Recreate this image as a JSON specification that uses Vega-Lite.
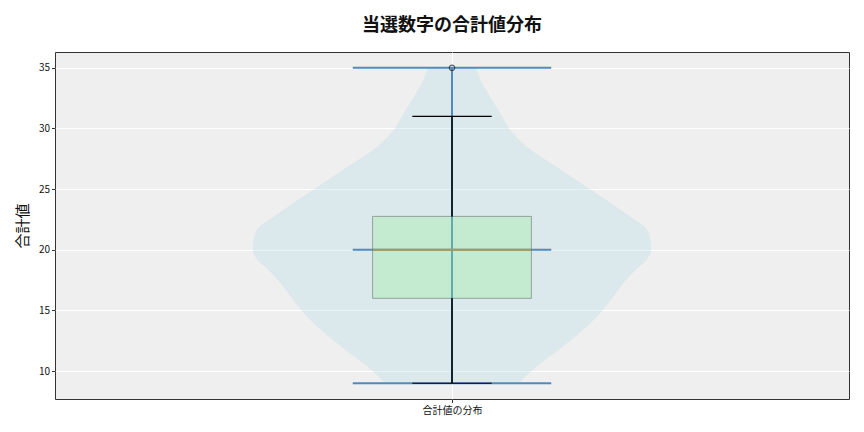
{
  "$schema": "https://vega.github.io/schema/vega-lite/v6.json",
  "width": 794,
  "height": 347,
  "autosize": "none",
  "padding": {"left": 55, "top": 52, "right": 15, "bottom": 33},
  "background": "#ffffff",
  "title": {"text": "当選数字の合計値分布", "fontSize": 18, "font": "Noto Sans CJK JP", "fontWeight": "bold", "color": "#111111", "offset": 17, "anchor": "middle"},
  "config": {
    "view": {"stroke": "#333333", "strokeWidth": 1, "fill": "#efefef"},
    "axis": {"labelFont": "Noto Sans CJK JP", "titleFont": "Noto Sans CJK JP", "labelColor": "#111111", "titleColor": "#111111", "gridColor": "#ffffff", "gridWidth": 1, "gridOpacity": 1, "domain": false, "tickColor": "#333333", "tickSize": 3.5, "labelFontSize": 10}
  },
  "datasets": {
    "violin": [
      {"v": 9, "lo": 0.916, "hi": 1.084},
      {"v": 10.2, "lo": 0.897, "hi": 1.103},
      {"v": 11.8, "lo": 0.865, "hi": 1.135},
      {"v": 13.45, "lo": 0.834, "hi": 1.166},
      {"v": 15.1, "lo": 0.809, "hi": 1.191},
      {"v": 16.75, "lo": 0.79, "hi": 1.21},
      {"v": 18.4, "lo": 0.768, "hi": 1.232},
      {"v": 19.1, "lo": 0.756, "hi": 1.244},
      {"v": 20.1, "lo": 0.749, "hi": 1.251},
      {"v": 21.3, "lo": 0.752, "hi": 1.248},
      {"v": 22.1, "lo": 0.761, "hi": 1.239},
      {"v": 22.4, "lo": 0.768, "hi": 1.232},
      {"v": 23.7, "lo": 0.797, "hi": 1.203},
      {"v": 25.2, "lo": 0.831, "hi": 1.169},
      {"v": 26.9, "lo": 0.87, "hi": 1.13},
      {"v": 28.5, "lo": 0.906, "hi": 1.094},
      {"v": 30, "lo": 0.928, "hi": 1.072},
      {"v": 31, "lo": 0.937, "hi": 1.063},
      {"v": 32.4, "lo": 0.95, "hi": 1.05},
      {"v": 34, "lo": 0.964, "hi": 1.036},
      {"v": 35, "lo": 0.97, "hi": 1.03}
    ],
    "stats": [
      {"pos": 1, "min": 9, "q1": 16, "median": 20, "q3": 22.75, "wlo": 9, "whi": 31, "max": 35}
    ],
    "violinbars": [{"v": 9}, {"v": 20}, {"v": 35}],
    "caps": [{"v": 9}, {"v": 31}],
    "outliers": [{"v": 35}]
  },
  "encoding": {
    "x": {"type": "quantitative", "scale": {"domain": [0.5, 1.5], "nice": false, "zero": false},
          "axis": {"values": [1], "labelExpr": "'合計値の分布'", "title": null, "grid": true, "labelPadding": 3}},
    "y": {"type": "quantitative", "scale": {"domain": [7.7, 36.3], "nice": false, "zero": false},
          "axis": {"values": [10, 15, 20, 25, 30, 35], "title": "合計値", "titleFontSize": 15, "titleFontWeight": "normal", "titlePadding": 8, "grid": true}}
  },
  "layer": [
    {
      "data": {"name": "violin"},
      "mark": {"type": "area", "orient": "horizontal", "interpolate": "monotone", "fill": "#add8e6", "fillOpacity": 0.3},
      "encoding": {
        "y": {"field": "v", "type": "quantitative"},
        "x": {"field": "lo", "type": "quantitative"},
        "x2": {"field": "hi"}
      }
    },
    {
      "data": {"name": "violinbars"},
      "mark": {"type": "rule", "color": "#4f8bbf", "strokeWidth": 2},
      "encoding": {
        "y": {"field": "v", "type": "quantitative"},
        "x": {"datum": 0.875},
        "x2": {"datum": 1.125}
      }
    },
    {
      "data": {"name": "stats"},
      "mark": {"type": "rule", "color": "#4f8bbf", "strokeWidth": 2},
      "encoding": {
        "x": {"field": "pos", "type": "quantitative"},
        "y": {"field": "min", "type": "quantitative"},
        "y2": {"field": "max"}
      }
    },
    {
      "data": {"name": "stats"},
      "mark": {"type": "rect", "fill": "#90ee90", "fillOpacity": 0.3, "stroke": "#000000", "strokeOpacity": 0.3, "strokeWidth": 1},
      "encoding": {
        "x": {"datum": 0.9},
        "x2": {"datum": 1.1},
        "y": {"field": "q1", "type": "quantitative"},
        "y2": {"field": "q3"}
      }
    },
    {
      "data": {"name": "stats"},
      "mark": {"type": "rule", "color": "#a8985a", "strokeWidth": 2},
      "encoding": {
        "x": {"datum": 0.9},
        "x2": {"datum": 1.1},
        "y": {"field": "median", "type": "quantitative"}
      }
    },
    {
      "data": {"name": "stats"},
      "mark": {"type": "rule", "color": "#000000", "strokeWidth": 1.5},
      "encoding": {
        "x": {"field": "pos", "type": "quantitative"},
        "y": {"field": "q3", "type": "quantitative"},
        "y2": {"field": "whi"}
      }
    },
    {
      "data": {"name": "stats"},
      "mark": {"type": "rule", "color": "#000000", "strokeWidth": 1.5},
      "encoding": {
        "x": {"field": "pos", "type": "quantitative"},
        "y": {"field": "wlo", "type": "quantitative"},
        "y2": {"field": "q1"}
      }
    },
    {
      "data": {"name": "caps"},
      "mark": {"type": "rule", "color": "#000000", "strokeWidth": 1.2},
      "encoding": {
        "y": {"field": "v", "type": "quantitative"},
        "x": {"datum": 0.95},
        "x2": {"datum": 1.05}
      }
    },
    {
      "data": {"name": "outliers"},
      "mark": {"type": "point", "filled": false, "stroke": "#222222", "strokeWidth": 1.2, "size": 30, "shape": "circle"},
      "encoding": {
        "y": {"field": "v", "type": "quantitative"},
        "x": {"datum": 1}
      }
    }
  ]
}
